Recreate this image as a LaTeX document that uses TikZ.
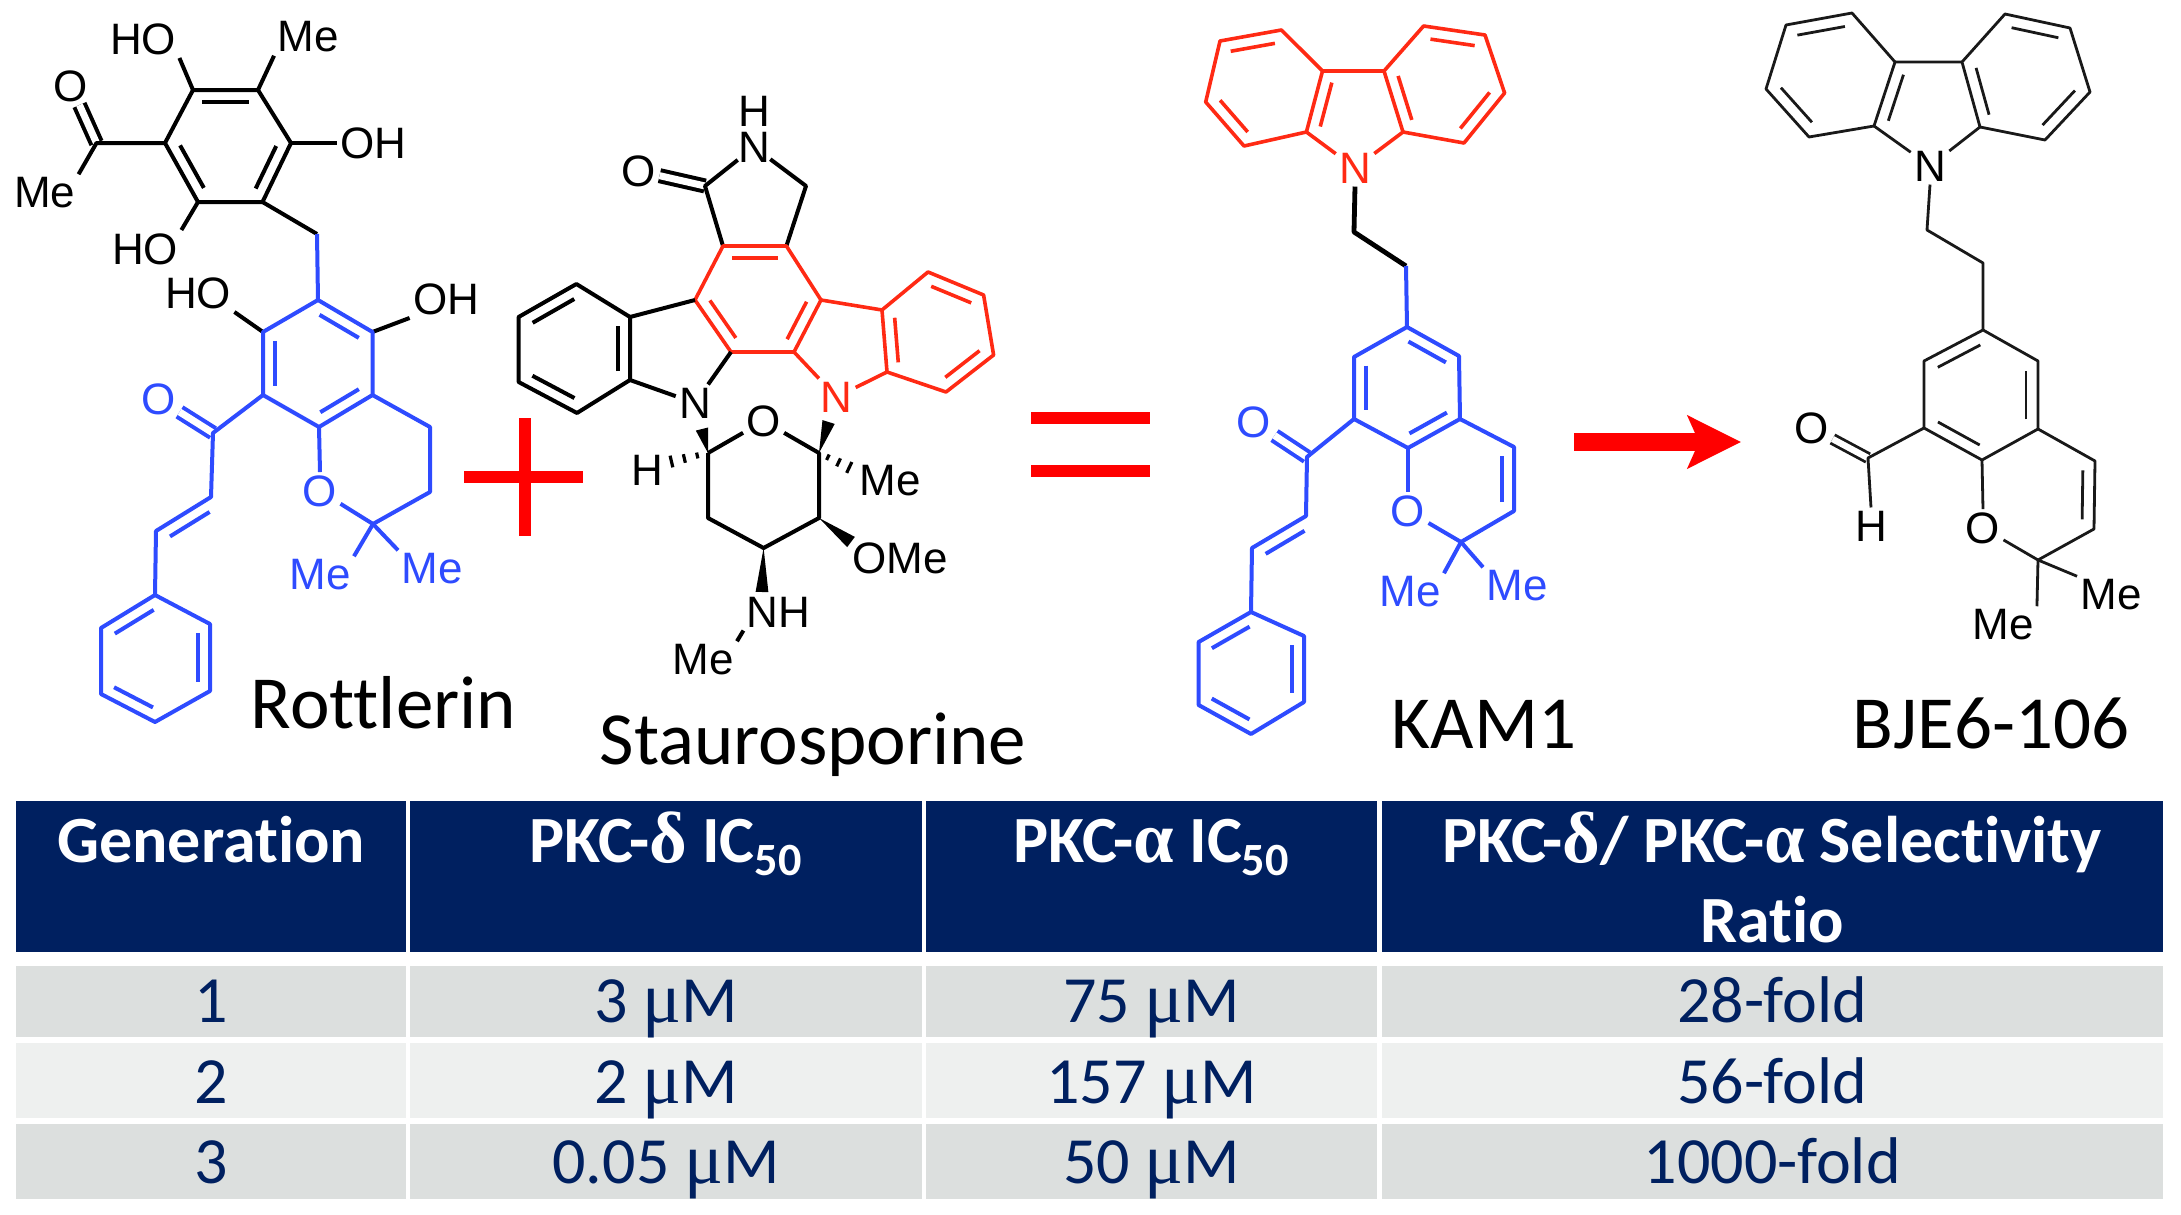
\documentclass[tikz,border=0pt]{standalone}
\usepackage{fontspec}
\setmainfont{Carlito}[Ligatures=NoCommon]
\newfontfamily\chemfont{Liberation Sans}
\newfontfamily\gkfont{Liberation Serif}[Scale=1.1]
\usetikzlibrary{arrows.meta,calc,positioning}
\definecolor{navy}{HTML}{002060}
\definecolor{rowdark}{HTML}{DCDFDE}
\definecolor{rowlight}{HTML}{EEF0EF}
\definecolor{chemblue}{HTML}{2E4BFF}
\definecolor{chemred}{HTML}{FF2A14}
\tikzset{%
  % Specifications for style of bonds:
     blackbond/.style = {draw=black, line width=2pt, line join=round},
      bluebond/.style = {draw=chemblue, line width=2pt, line join=round},
       redbond/.style = {draw=chemred, line width=1.8pt, line join=round},
      thinbond/.style = {draw=black!90, line width=1.4pt, line join=round},
       carbonyl/.style = {double, double distance=3.5pt},
  % Specifications for style of nodes:
          atom/.style = {inner sep=1.5pt, font=\chemfont\fontsize{22pt}{24pt}\selectfont},
      blueatom/.style = {atom, text=chemblue},
       redatom/.style = {atom, text=chemred},
         title/.style = {anchor=base, inner sep=0pt, font=\fontsize{37.5pt}{40pt}\selectfont},
      headtext/.style = {inner sep=0pt, text=white, font=\bfseries\fontsize{33pt}{40pt}\selectfont},
      headcell/.style = {headtext, fill=navy, text height=30.75pt, text depth=45pt},
       rowcell/.style = {inner sep=0pt, text=navy, font=\fontsize{33pt}{40pt}\selectfont},
      rowfirst/.style = {rowcell, fill=rowdark, text height=28pt, text depth=7.5pt},
     rowsecond/.style = {rowcell, fill=rowlight, text height=30pt, text depth=7.5pt},
      rowthird/.style = {rowcell, fill=rowdark, text height=30pt, text depth=7.5pt},
        colgen/.style = {minimum width=194.8pt},
      coldelta/.style = {minimum width=255.8pt},
      colalpha/.style = {minimum width=225.5pt},
      colratio/.style = {minimum width=390.75pt},
       symline/.style = {draw=red, line width=6pt},
}
% inner stroke of a double bond, on the left of the way from #2 to #3
\newcommand{\innerbond}[3][blackbond]{%
  \draw[#1] ($(#2)!.14!(#3)!6pt!90:(#3)$) -- ($(#3)!.14!(#2)!6pt!-90:(#2)$);}
\newcommand{\wedgebond}[2]{%
  \fill (#1) -- ($(#2)!3.2pt!90:(#1)$) -- ($(#2)!3.2pt!-90:(#1)$) -- cycle;}
\newcommand{\hashbond}[2]{%
  \foreach \t/\w in {.25/1.5pt,.55/2.2pt,.85/3pt}
    \draw[line width=1.6pt] ($(#1)!\t!(#2)!\w!90:(#2)$) -- ($(#1)!\t!(#2)!\w!-90:(#2)$);}

\begin{document}
\begin{tikzpicture}[x=0.5pt, y=-0.5pt, align=center]
  \useasboundingbox (0,0) rectangle (2181,1215);

  %% Rottlerin
  \foreach \n/\x/\y in {a1/193/90, a2/258/90, a3/291/143, a4/262.5/202, a5/198/202, a6/165/143,
      acetyl/96.5/143, ch2/317/234, b1/318/300, b2/372.5/332, b3/372.5/395, b4/319/427,
      b5/263/395, b6/263/332, pyr1/430/427, pyr2/430/492, pyr3/373/524,
      keto/213/433, al1/211/497, al2/156/531,
      p1/155/595, p2/210/624, p3/210/691, p4/155/722, p5/101/694, p6/101/628}
    \coordinate (\n) at (\x,\y);
  \node (acO)   [atom]     at (71,86)    {O};
  \node (acMe)  [atom]     at (44.6,193) {Me};
  \node (ho1)   [atom]     at (143,39)   {HO};
  \node (topMe) [atom]     at (308,37)   {Me};
  \node (oh1)   [atom]     at (373,143)  {OH};
  \node (ho2)   [atom]     at (145,249)  {HO};
  \node (ho3)   [atom]     at (198,293)  {HO};
  \node (oh2)   [atom]     at (446,299)  {OH};
  \node (pyrO)  [blueatom] at (320,491)  {O};
  \node (pyrMeA)[blueatom] at (320,575)  {Me};
  \node (pyrMeB)[blueatom] at (432,569)  {Me};
  \node (ketoO) [blueatom] at (159,399)  {O};
  \draw[blackbond, carbonyl] (acetyl) -- (acO);
  \draw[bluebond, carbonyl]  (keto) -- (ketoO);
  \draw[blackbond] (a1) -- (a2) -- (a3) -- (a4) -- (a5) -- (a6) -- cycle;
  \innerbond{a2}{a1}
  \innerbond{a4}{a3}
  \innerbond{a6}{a5}
  \draw[blackbond] (a6) -- (acetyl) -- (acMe.north east);
  \draw[blackbond] (a1) -- (ho1.south east);
  \draw[blackbond] (a2) -- (topMe.south west);
  \draw[blackbond] (a3) -- (oh1.west);
  \draw[blackbond] (a5) -- (ho2.north east);
  \draw[blackbond] (a4) -- (ch2);
  \draw[blackbond] (b6) -- (ho3.south east);
  \draw[blackbond] (b2) -- (oh2.south west);
  \draw[bluebond]  (ch2) -- (b1);
  \draw[bluebond]  (b1) -- (b2) -- (b3) -- (b4) -- (b5) -- (b6) -- cycle;
  \innerbond[bluebond]{b2}{b1}
  \innerbond[bluebond]{b4}{b3}
  \innerbond[bluebond]{b6}{b5}
  \draw[bluebond]  (b3) -- (pyr1) -- (pyr2) -- (pyr3);
  \draw[bluebond]  (b4) -- (pyrO.north);
  \draw[bluebond]  (pyrO) -- (pyr3);
  \draw[bluebond]  (pyr3) -- (pyrMeA.north east);
  \draw[bluebond]  (pyr3) -- (pyrMeB.north west);
  \draw[bluebond]  (b5) -- (keto) -- (al1) -- (al2) -- (p1);
  \innerbond[bluebond]{al1}{al2}
  \draw[bluebond]  (p1) -- (p2) -- (p3) -- (p4) -- (p5) -- (p6) -- cycle;
  \innerbond[bluebond]{p1}{p6}
  \innerbond[bluebond]{p3}{p2}
  \innerbond[bluebond]{p5}{p4}
  \node (rottlerin) [title] at (383.5,728) {Rottlerin};

  %% plus
  \draw[symline] (525,418) -- (525,536);
  \draw[symline] (464,476.5) -- (582.5,476.5);

  %% Staurosporine
  \foreach \n/\x/\y in {c1/723/246, c2/786.4/246, c3/821/300, c4/794/352, c5/731/352, c6/695/300,
      lac1/705/186, lac2/806/186,
      d1/630/317, d2/576.4/284, d3/518.6/317, d4/518.6/382, d5/577/413, d6/630/380,
      e1/882/310, e2/928/272, e3/983.6/295, e4/993.6/355, e5/946/392, e6/887/372,
      s1/708/453, s2/819/453, s3/819/518, s4/763.6/548, s5/708/518,
      wedgeA/702/429, wedgeB/828.6/422, wedgeC/851/542, wedgeD/762/592,
      hashA/665/463, hashB/854.6/470}
    \coordinate (\n) at (\x,\y);
  \node (lacO) [atom]    at (639,171)   {O};
  \node (lacN) [atom, inner sep=0pt] at (754,147) {N};
  \node (lacH) [atom, inner sep=0pt] at (754,111) {H};
  \node (leftN)[atom]    at (695,403)   {N};
  \node (rightN)[redatom] at (836.4,397) {N};
  \node (sugO) [atom]    at (763.6,421) {O};
  \node (sugH) [atom]    at (647.5,470) {H};
  \node (sugMe)[atom]    at (890,481)   {Me};
  \node (sugOMe)[atom]   at (900,558)   {OMe};
  \node (sugNH)[atom]    at (778.6,612) {NH};
  \node (sugNMe)[atom]   at (703,660)   {Me};
  \draw[blackbond, carbonyl] (lac1) -- (lacO);
  \draw[blackbond] (c1) -- (lac1) -- (lacN) -- (lac2) -- (c2);
  \draw[redbond]   (c1) -- (c2) -- (c3) -- (c4) -- (c5) -- (c6) -- cycle;
  \innerbond[redbond]{c2}{c1}
  \innerbond[redbond]{c4}{c3}
  \innerbond[redbond]{c6}{c5}
  \draw[blackbond] (c6) -- (d1);
  \draw[blackbond] (d1) -- (d2) -- (d3) -- (d4) -- (d5) -- (d6) -- cycle;
  \innerbond{d6}{d1}
  \innerbond{d2}{d3}
  \innerbond{d4}{d5}
  \draw[blackbond] (c5) -- (leftN);
  \draw[blackbond] (d6) -- (leftN);
  \draw[redbond]   (c3) -- (e1) -- (e2) -- (e3) -- (e4) -- (e5) -- (e6) -- (e1);
  \innerbond[redbond]{e1}{e6}
  \innerbond[redbond]{e3}{e2}
  \innerbond[redbond]{e5}{e4}
  \draw[redbond]   (c4) -- (rightN);
  \draw[redbond]   (e6) -- (rightN);
  \draw[blackbond] (s1) -- (sugO) -- (s2) -- (s3) -- (s4) -- (s5) -- (s1);
  \wedgebond{s1}{wedgeA}
  \wedgebond{s2}{wedgeB}
  \wedgebond{s3}{wedgeC}
  \wedgebond{s4}{wedgeD}
  \hashbond{s1}{hashA}
  \hashbond{s2}{hashB}
  \draw[blackbond] (sugNH.south west) -- (sugNMe.north east);
  \node (staurosporine) [title] at (813,764) {Staurosporine};

  %% equals
  \draw[symline] (1031,418) -- (1150,418);
  \draw[symline] (1031,471) -- (1150,471);

  %% KAM1
  \foreach \n/\x/\y in {k1/1322.5/71, k2/1384/71, k3/1403/132, k6/1306.4/132,
      kl1/1281.4/30, kl2/1220/41, kl3/1205.7/102, kl4/1244/146,
      kr1/1423.6/26, kr2/1485/35, kr3/1504.6/93, kr4/1464/143,
      kc1/1354/232, kc2/1406/266,
      r1/1407/327, r2/1459/356, r3/1460/419, r4/1408/448, r5/1354/419, r6/1354/357,
      kpy1/1514/447, kpy2/1514/511, kpy3/1461/542,
      kket/1307/457, kal1/1306/516, kal2/1252/548,
      q1/1251/612, q2/1304/636, q3/1304/702, q4/1251/734, q5/1198.6/705, q6/1198.6/642}
    \coordinate (\n) at (\x,\y);
  \node (kamN)  [redatom]  at (1355,168) {N};
  \node (kamO)  [blueatom] at (1408,511) {O};
  \node (kamMeA)[blueatom] at (1410,592) {Me};
  \node (kamMeB)[blueatom] at (1517,586) {Me};
  \node (kamKO) [blueatom] at (1254,422) {O};
  \draw[bluebond, carbonyl] (kket) -- (kamKO);
  \draw[redbond] (k1) -- (k2) -- (k3) -- (kr4) -- (kr3) -- (kr2) -- (kr1) -- (k2);
  \draw[redbond] (k1) -- (k6) -- (kl4) -- (kl3) -- (kl2) -- (kl1) -- (k1);
  \innerbond[redbond]{k1}{k6}
  \innerbond[redbond]{kl1}{kl2}
  \innerbond[redbond]{kl3}{kl4}
  \innerbond[redbond]{k2}{k3}
  \innerbond[redbond]{kr2}{kr1}
  \innerbond[redbond]{kr4}{kr3}
  \draw[redbond] (k6) -- (kamN);
  \draw[redbond] (k3) -- (kamN);
  \draw[blackbond, line width=2.4pt] (kamN.south) -- (kc1) -- (kc2);
  \draw[bluebond] (kc2) -- (r1);
  \draw[bluebond] (r1) -- (r2) -- (r3) -- (r4) -- (r5) -- (r6) -- cycle;
  \innerbond[bluebond]{r2}{r1}
  \innerbond[bluebond]{r4}{r3}
  \innerbond[bluebond]{r6}{r5}
  \draw[bluebond] (r3) -- (kpy1) -- (kpy2) -- (kpy3);
  \innerbond[bluebond]{kpy2}{kpy1}
  \draw[bluebond] (r4) -- (kamO.north);
  \draw[bluebond] (kamO) -- (kpy3);
  \draw[bluebond] (kpy3) -- (kamMeA.north east);
  \draw[bluebond] (kpy3) -- (kamMeB.north west);
  \draw[bluebond] (r5) -- (kket) -- (kal1) -- (kal2) -- (q1);
  \innerbond[bluebond]{kal1}{kal2}
  \draw[bluebond] (q1) -- (q2) -- (q3) -- (q4) -- (q5) -- (q6) -- cycle;
  \innerbond[bluebond]{q1}{q6}
  \innerbond[bluebond]{q3}{q2}
  \innerbond[bluebond]{q5}{q4}
  \node (kam) [title] at (1484,748) {KAM1};

  %% arrow
  \coordinate (arrowA) at (1574,442);
  \coordinate (arrowB) at (1741,442);
  \draw[draw=red, line width=9pt, -{Stealth[length=26.5pt, width=26pt, inset=5.5pt]}] (arrowA) -- (arrowB);

  %% BJE6-106
  \foreach \n/\x/\y in {m1/1895/62, m2/1962/62, m3/1980/127, m6/1874/126,
      ml1/1852/13, ml2/1786/25, ml3/1766/89, ml4/1809/137,
      mr1/2005/14, mr2/2070/28, mr3/2090/92, mr4/2045/140,
      mc1/1927/230, mc2/1983/263,
      t1/1983/330, t2/2038/361, t3/2038/429, t4/1982/460, t5/1924/428, t6/1924/361,
      mpy1/2095/461, mpy2/2094/529, mpy3/2038/560, mald/1868/458}
    \coordinate (\n) at (\x,\y);
  \node (bjeN)  [atom] at (1930,166) {N};
  \node (bjeO)  [atom] at (1983,528) {O};
  \node (bjeMeA)[atom] at (2003,625) {Me};
  \node (bjeMeB)[atom] at (2111,595) {Me};
  \node (bjeAO) [atom] at (1812,428) {O};
  \node (bjeH)  [atom] at (1871,526) {H};
  \draw[thinbond, carbonyl, double distance=3.2pt] (mald) -- (bjeAO);
  \draw[thinbond] (m1) -- (m2) -- (m3) -- (mr4) -- (mr3) -- (mr2) -- (mr1) -- (m2);
  \draw[thinbond] (m1) -- (m6) -- (ml4) -- (ml3) -- (ml2) -- (ml1) -- (m1);
  \innerbond[thinbond]{m1}{m6}
  \innerbond[thinbond]{ml1}{ml2}
  \innerbond[thinbond]{ml3}{ml4}
  \innerbond[thinbond]{m2}{m3}
  \innerbond[thinbond]{mr2}{mr1}
  \innerbond[thinbond]{mr4}{mr3}
  \draw[thinbond] (m6) -- (bjeN);
  \draw[thinbond] (m3) -- (bjeN);
  \draw[thinbond] (bjeN.south) -- (mc1) -- (mc2) -- (t1);
  \draw[thinbond] (t1) -- (t2) -- (t3) -- (t4) -- (t5) -- (t6) -- cycle;
  \innerbond[thinbond]{t1}{t6}
  \innerbond[thinbond]{t3}{t2}
  \innerbond[thinbond]{t5}{t4}
  \draw[thinbond] (t3) -- (mpy1) -- (mpy2) -- (mpy3);
  \innerbond[thinbond]{mpy2}{mpy1}
  \draw[thinbond] (t4) -- (bjeO.north);
  \draw[thinbond] (bjeO) -- (mpy3);
  \draw[thinbond] (mpy3) -- (bjeMeA.north east);
  \draw[thinbond] (mpy3) -- (bjeMeB.north west);
  \draw[thinbond] (t5) -- (mald) -- (bjeH.north);
  \node (bje) [title] at (1991,748) {BJE6-106};

  %% table
  \node (hgen)   [headcell, colgen, anchor=north west] at (16,800.5) {Generation};
  \node (hdelta) [headcell, coldelta, right=1.75pt of hgen]   {PKC-{\gkfont δ} IC\textsubscript{50}};
  \node (halpha) [headcell, colalpha, right=1.75pt of hdelta] {PKC-{\gkfont α} IC\textsubscript{50}};
  \node (hratio) [headcell, colratio, right=1.75pt of halpha] {PKC-{\gkfont δ}/ PKC-{\gkfont α} Selectivity};
  \node (ratio)  [headtext, anchor=base] at ($(hratio.south)+(0,-10)$) {Ratio};

  \node (gen1)   [rowfirst, colgen, below=6.5pt of hgen]    {1};
  \node (delta1) [rowfirst, coldelta, right=1.75pt of gen1] {3 {\gkfont μ}M};
  \node (alpha1) [rowfirst, colalpha, right=1.75pt of delta1] {75 {\gkfont μ}M};
  \node (fold1)  [rowfirst, colratio, right=1.75pt of alpha1] {28-fold};

  \node (gen2)   [rowsecond, colgen, below=2.5pt of gen1]    {2};
  \node (delta2) [rowsecond, coldelta, right=1.75pt of gen2] {2 {\gkfont μ}M};
  \node (alpha2) [rowsecond, colalpha, right=1.75pt of delta2] {157 {\gkfont μ}M};
  \node (fold2)  [rowsecond, colratio, right=1.75pt of alpha2] {56-fold};

  \node (gen3)   [rowthird, colgen, below=2.5pt of gen2]    {3};
  \node (delta3) [rowthird, coldelta, right=1.75pt of gen3] {0.05 {\gkfont μ}M};
  \node (alpha3) [rowthird, colalpha, right=1.75pt of delta3] {50 {\gkfont μ}M};
  \node (fold3)  [rowthird, colratio, right=1.75pt of alpha3] {1000-fold};
\end{tikzpicture}
\end{document}
